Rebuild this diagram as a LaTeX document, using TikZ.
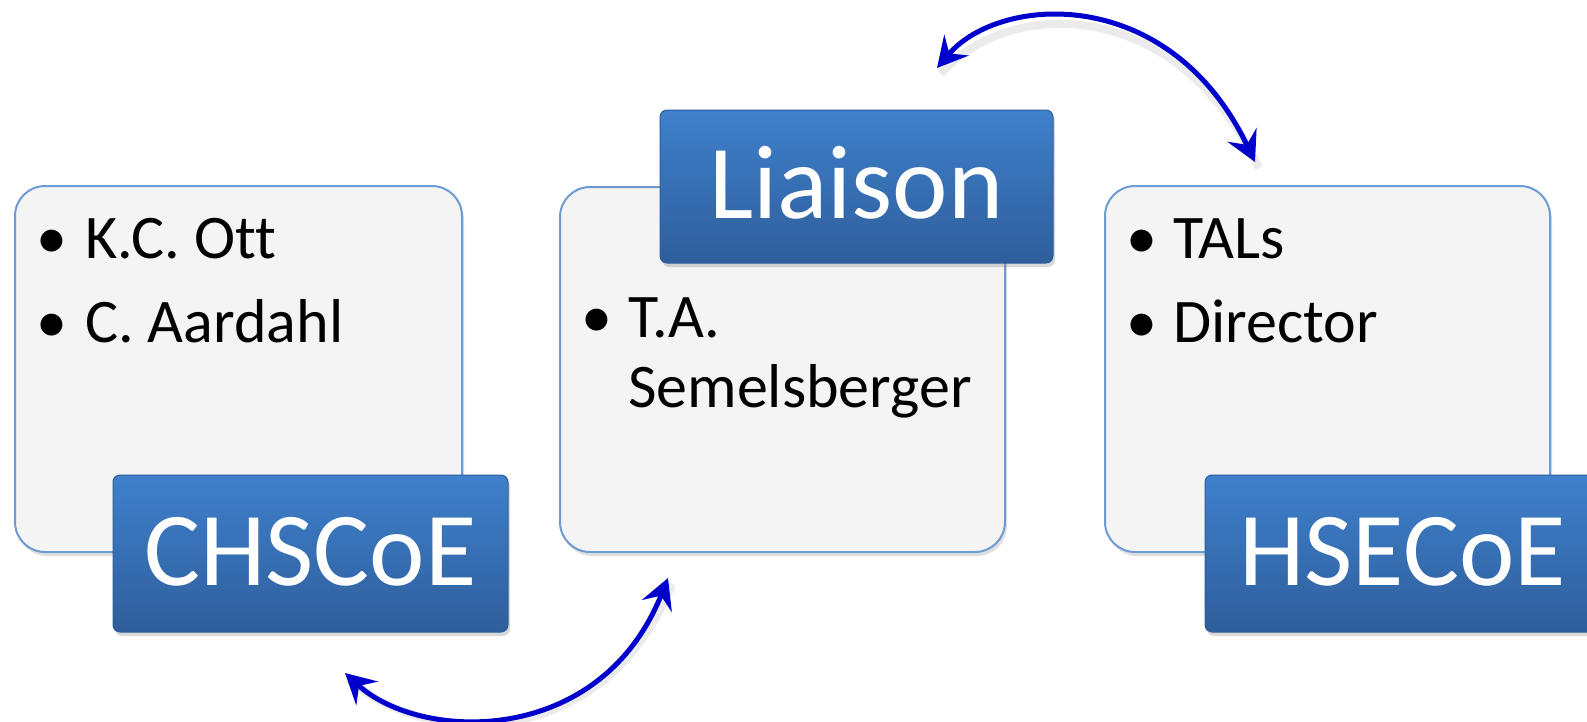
\documentclass[tikz,border=0pt]{standalone}
\usepackage{fontspec}
\setmainfont{Carlito}[Ligatures={NoCommon}]
\usetikzlibrary{arrows.meta,shadows,calc}
\definecolor{boxfill}{HTML}{F4F4F4}
\definecolor{boxline}{HTML}{6F9BD3}
\definecolor{bluetop}{HTML}{3F80CC}
\definecolor{bluebot}{HTML}{2E5E9B}
\definecolor{arrowblue}{HTML}{0000CC}
\tikzset{
  graybox/.style={draw=boxline, line width=2pt, fill=boxfill, rounded corners=30pt,
    inner sep=0pt, drop shadow={shadow xshift=2pt, shadow yshift=-4pt, opacity=0.25}},
  bluebox/.style={rounded corners=7pt, top color=bluetop, bottom color=bluebot,
    draw=bluebot, line width=1pt, text=white, inner sep=0pt,
    font=\fontsize{105}{105}\selectfont, text height=63pt, text depth=0pt,
    drop shadow={shadow xshift=2pt, shadow yshift=-4pt, opacity=0.3}},
  itemtext/.style={anchor=base west, inner sep=0pt, font=\fontsize{62}{62}\selectfont},
  link/.style={draw=arrowblue, line width=5pt,
    {Stealth[length=30pt,width=32pt,inset=11pt]}-{Stealth[length=30pt,width=32pt,inset=11pt]}},
  linkshadow/.style={draw=black, opacity=0.08, line width=8pt}
}
\begin{document}
\begin{tikzpicture}[x=1pt,y=-1pt]
\useasboundingbox (0,0) rectangle (1587,721);
\clip (0,0) rectangle (1587,721);
% gray boxes
\node[graybox, minimum width=447pt, minimum height=366pt] (g1) at (238.5,369) {};
\node[graybox, minimum width=445pt, minimum height=365pt] (g2) at (782.5,369.5) {};
\node[graybox, minimum width=445pt, minimum height=366pt] (g3) at (1327.5,369) {};
% items
\node[itemtext] (b1a) at (36,258) {•};
\node[itemtext] (t1a) at (85,258) {K.C. Ott};
\node[itemtext] (b1b) at (36,342) {•};
\node[itemtext] (t1b) at (85,342) {C. Aardahl};
\node[itemtext] (b2a) at (581,337) {•};
\node[itemtext] (t2a) at (628,337) {T.A.};
\node[itemtext] (t2b) at (628,407) {Semelsberger};
\node[itemtext] (b3a) at (1126,258) {•};
\node[itemtext] (t3a) at (1173,258) {TALs};
\node[itemtext] (b3b) at (1126,342) {•};
\node[itemtext] (t3b) at (1173,342) {Director};
% blue labels
\node[bluebox, minimum width=395pt, minimum height=157pt] (l1) at (310.5,553.5) {CHSCoE};
\node[bluebox, minimum width=393pt, minimum height=153pt] (l2) at (856.5,186.5) {Liaison};
\node[bluebox, minimum width=395pt, minimum height=157pt] (l3) at (1402.5,553.5) {HSECoE};
% arrows
\coordinate (a1s) at (937,68);
\coordinate (a1e) at (1255,162);
\coordinate (a2s) at (345,673);
\coordinate (a2e) at (668,578);
\draw[linkshadow] ($(a1s)+(4,6)$) .. controls ($(1000,-6)+(4,6)$) and ($(1170,-16)+(4,6)$) .. ($(a1e)+(4,6)$);
\draw[linkshadow] ($(a2s)+(4,6)$) .. controls ($(420,742)+(4,6)$) and ($(600,748)+(4,6)$) .. ($(a2e)+(4,6)$);
\draw[link] (a1s) .. controls (1000,-6) and (1170,-16) .. (a1e);
\draw[link] (a2s) .. controls (420,742) and (600,748) .. (a2e);
\end{tikzpicture}
\end{document}
